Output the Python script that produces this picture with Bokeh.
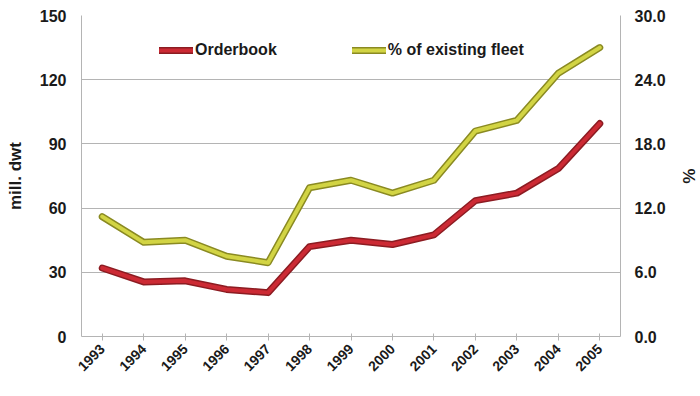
from math import pi
from bokeh.plotting import figure
from bokeh.models import (FactorRange, Range1d, LinearAxis, FixedTicker,
                          NumeralTickFormatter, Legend, LegendItem)
from bokeh.embed import file_html
from bokeh.resources import INLINE

years = ["1993", "1994", "1995", "1996", "1997", "1998", "1999",
         "2000", "2001", "2002", "2003", "2004", "2005"]
orderbook = [32, 25.5, 26, 22, 20.5, 42, 45, 43, 47.5, 63.5, 67, 78.5, 99.5]
pct_fleet = [11.2, 8.8, 9.0, 7.5, 6.9, 13.9, 14.6, 13.4, 14.6, 19.2, 20.2, 24.6, 27.0]

left_ticks = [0, 30, 60, 90, 120, 150]
right_ticks = [0, 6, 12, 18, 24, 30]

FONT = "Liberation Sans"
GRID = "#b4b4b4"
INK = "#1a1a1a"

p = figure(width=700, height=396, x_range=FactorRange(*years, range_padding=0),
           y_range=Range1d(0, 150), output_backend="svg", toolbar_location=None,
           min_border_left=81, min_border_right=68, min_border_top=15,
           min_border_bottom=60)
p.outline_line_color = None
p.background_fill_color = "white"
p.border_fill_color = "white"

p.extra_y_ranges = {"pct": Range1d(0, 30)}

# grid
p.xgrid.grid_line_color = None
p.ygrid.grid_line_color = GRID
p.ygrid.grid_line_width = 1

# x axis
xa = p.xaxis[0]
xa.axis_line_color = GRID
xa.major_tick_line_color = GRID
xa.major_tick_in = 3
xa.major_tick_out = 4
xa.minor_tick_line_color = None
xa.major_label_orientation = pi / 4
xa.major_label_text_font = FONT
xa.major_label_text_font_style = "bold"
xa.major_label_text_font_size = "14px"
xa.major_label_text_color = INK
xa.major_label_standoff = 6

# left axis
ya = p.yaxis[0]
ya.ticker = FixedTicker(ticks=left_ticks)
ya.axis_line_color = GRID
ya.major_tick_line_color = None
ya.minor_tick_line_color = None
ya.major_label_text_font = FONT
ya.major_label_text_font_style = "bold"
ya.major_label_text_font_size = "16px"
ya.major_label_text_color = INK
ya.major_label_standoff = 9
ya.axis_label = "mill. dwt"
ya.axis_label_text_font = FONT
ya.axis_label_text_font_style = "bold"
ya.axis_label_text_font_size = "17px"
ya.axis_label_text_color = INK
ya.axis_label_standoff = 12

# right axis
ra = LinearAxis(y_range_name="pct", ticker=FixedTicker(ticks=right_ticks),
                formatter=NumeralTickFormatter(format="0.0"))
ra.axis_line_color = GRID
ra.major_tick_line_color = None
ra.minor_tick_line_color = None
ra.major_label_text_font = FONT
ra.major_label_text_font_style = "bold"
ra.major_label_text_font_size = "16px"
ra.major_label_text_color = INK
ra.major_label_standoff = 8
ra.axis_label = "%"
ra.axis_label_text_font = FONT
ra.axis_label_text_font_style = "bold"
ra.axis_label_text_font_size = "17px"
ra.axis_label_text_color = INK
ra.axis_label_standoff = 10
p.add_layout(ra, "right")

# series: dark edge underneath, lighter body on top
r_ob_edge = p.line(years, orderbook, line_color="#8c1c22", line_width=7,
                   line_join="round", line_cap="round")
r_ob = p.line(years, orderbook, line_color="#cc2a34", line_width=4,
              line_join="round", line_cap="round")
r_pf_edge = p.line(years, pct_fleet, y_range_name="pct", line_color="#8a8a22",
                   line_width=7, line_join="round", line_cap="round")
r_pf = p.line(years, pct_fleet, y_range_name="pct", line_color="#d2d444",
              line_width=4, line_join="round", line_cap="round")

legend = Legend(items=[LegendItem(label="Orderbook", renderers=[r_ob_edge, r_ob]),
                       LegendItem(label="% of existing fleet", renderers=[r_pf_edge, r_pf])],
                orientation="horizontal", location=(78, 276),
                border_line_color=None, background_fill_alpha=0,
                padding=0, margin=0, spacing=75, glyph_width=34, glyph_height=20,
                label_standoff=2, label_text_font=FONT, label_text_font_style="bold",
                label_text_font_size="16px", label_text_color=INK)
p.add_layout(legend)

open("out.html", "w").write(file_html(p, INLINE))
